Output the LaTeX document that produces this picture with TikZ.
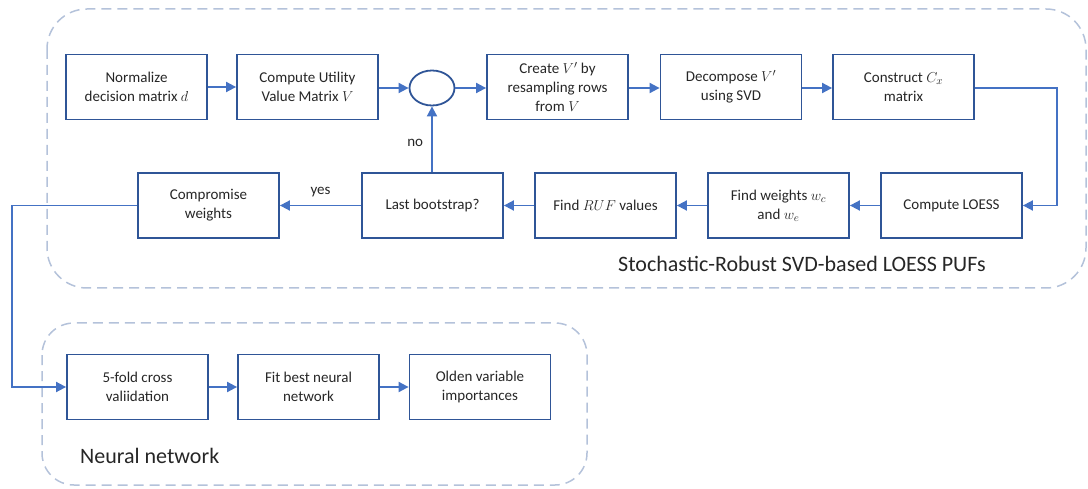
\documentclass[tikz,border=0pt]{standalone}
\usepackage{fontspec}
\setmainfont{Carlito}
\usetikzlibrary{arrows.meta,shapes.geometric}
\definecolor{boxblue}{HTML}{2F5597}
\definecolor{arrblue}{HTML}{4472C4}
\definecolor{dashgray}{HTML}{B4C2DA}
\definecolor{txt}{HTML}{262626}
\tikzset{
  stepbox/.style={draw=boxblue, line width=1.8pt, minimum width=141pt, minimum height=65pt,
    inner sep=0pt, align=center, font=\fontsize{15}{19}\selectfont, text=txt},
  conn/.style={draw=arrblue, line width=1.8pt, -{Triangle[length=10pt,width=10pt]}},
  group/.style={draw=dashgray, line width=1.5pt, dash pattern=on 10pt off 6pt},
  grouplabel/.style={font=\fontsize{22}{26}\selectfont, text=txt, inner sep=0pt, anchor=base west},
  smalllabel/.style={font=\fontsize{15}{18}\selectfont, text=txt, inner sep=0pt}
}
\begin{document}
\begin{tikzpicture}[x=1pt,y=-1pt]
\useasboundingbox (0,0) rectangle (1088,489);
% groups
\draw[group, rounded corners=40pt] (47,9) rectangle (1086,288);
\draw[group, rounded corners=32pt] (42,323) rectangle (587,485);
\node[grouplabel] (glabel1) at (618,272) {Stochastic-Robust SVD-based LOESS PUFs};
\node[grouplabel] (glabel2) at (80,463) {Neural network};
% top row
\node[stepbox] (norm) at (136.5,87) {Normalize\\decision matrix $d$};
\node[stepbox] (util) at (307.5,87) {Compute Utility\\Value Matrix $V$};
\node[draw=boxblue, line width=1.8pt, ellipse, minimum width=45pt, minimum height=35pt, inner sep=0pt] (junc) at (432,88) {};
\node[stepbox] (create) at (557.5,87) {Create $V'$ by\\resampling rows\\from $V$};
\node[stepbox] (decomp) at (731,87) {Decompose $V'$\\using SVD};
\node[stepbox] (constr) at (903.5,87) {Construct $C_x$\\matrix};
% second row
\node[stepbox] (loess) at (951.5,205.5) {Compute LOESS};
\node[stepbox] (weights) at (778.5,205.5) {Find weights $w_c$\\and $w_e$};
\node[stepbox] (ruf) at (605.5,205.5) {Find $RUF$ values};
\node[stepbox] (last) at (432.5,205.5) {Last bootstrap?};
\node[stepbox] (comp) at (208.5,205.5) {Compromise\\weights};
% neural row
\node[stepbox] (fold) at (137.5,387) {5-fold cross\\valiidation};
\node[stepbox] (fit) at (308.5,387) {Fit best neural\\network};
\node[stepbox] (olden) at (480,387) {Olden variable\\importances};
% connectors
\draw[conn] (norm) -- (util);
\draw[conn] (util.east |- junc) -- (junc);
\draw[conn] (junc) -- (create.west |- junc);
\draw[conn] (create.east |- junc) -- (decomp.west |- junc);
\draw[conn] (decomp.east |- junc) -- (constr.west |- junc);
\coordinate (rturn) at (1057,88);
\draw[conn] (constr.east |- rturn) -- (rturn) |- (loess.east);
\draw[conn] (loess) -- (weights);
\draw[conn] (weights) -- (ruf);
\draw[conn] (ruf) -- (last);
\draw[conn] (last) -- node[smalllabel, above=8pt] (yes) {yes} (comp);
\draw[conn] (last.north -| junc) -- node[smalllabel, left=8pt, pos=0.45] (no) {no} (junc);
\coordinate (lturn) at (12,205.5);
\draw[conn] (comp.west) -- (lturn) |- (fold.west);
\draw[conn] (fold) -- (fit);
\draw[conn] (fit) -- (olden);
\end{tikzpicture}
\end{document}
